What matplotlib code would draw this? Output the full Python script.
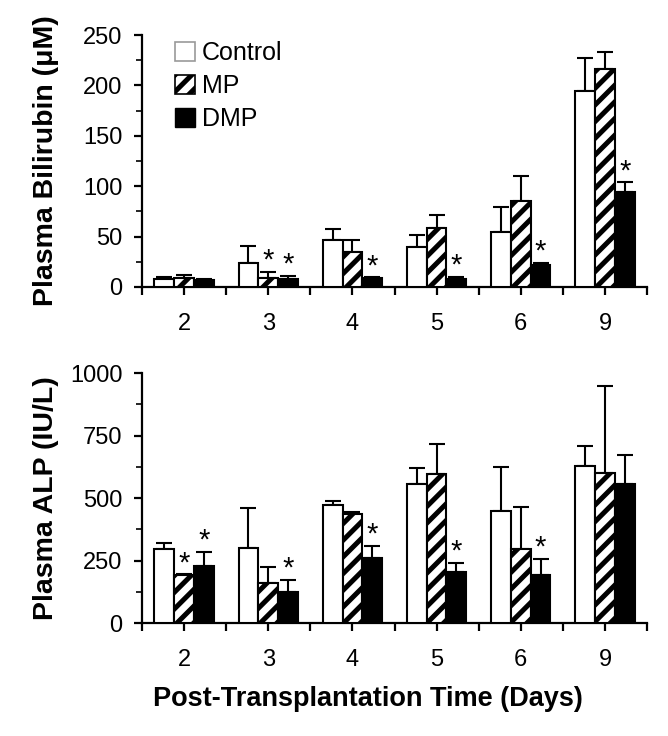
"""
Plasma bilirubin and ALP after transplantation: Control / MP / DMP bars with SEM.
"""
import numpy as np
import matplotlib
matplotlib.use("Agg")
import matplotlib.pyplot as plt
from matplotlib.patches import Patch
from matplotlib.ticker import MultipleLocator

plt.rcParams["font.family"] = ["Liberation Sans", "DejaVu Sans"]
plt.rcParams["hatch.linewidth"] = 3.6

# ── Data ──────────────────────────────────────────────────────────────────────
days = ["2", "3", "4", "5", "6", "9"]

ctrl_bil = [8, 23.5, 46.5, 40, 55, 194.5]
ctrl_bil_sem = [1.5, 17.5, 11, 12, 24, 32.5]
mp_bil = [9, 9, 34.5, 59, 85.5, 216]
mp_bil_sem = [3, 6, 12.5, 12, 24.5, 17.5]
dmp_bil = [7, 8, 9, 8, 22, 94]
dmp_bil_sem = [0.5, 3, 0.5, 2, 2, 10]
# significance stars: (day index, group index)  group 1 = MP, 2 = DMP
stars_bil = [(1, 1), (1, 2), (2, 2), (3, 2), (4, 2), (5, 2)]

ctrl_alp = [296, 301, 472, 555, 448, 628]
ctrl_alp_sem = [23, 159, 17, 66, 177, 81]
mp_alp = [192, 159, 436, 596, 295, 599]
mp_alp_sem = [3, 65, 9, 120, 170, 349]
dmp_alp = [229, 124, 260, 204, 192, 556]
dmp_alp_sem = [56, 48, 48, 36, 65, 115]
stars_alp = [(0, 1), (0, 2), (1, 2), (2, 2), (3, 2), (4, 2)]


def draw_panel(ax, series, sems, stars, ymax, major, minor, ylabel, star_off):
    x = np.arange(len(days))
    w = 0.235
    styles = [dict(color="white", hatch=None),
              dict(color="white", hatch="//"),
              dict(color="black", hatch=None)]
    tops = []
    for i, (vals, sem, st) in enumerate(zip(series, sems, styles)):
        xs = x + (i - 1) * w
        ax.bar(xs, vals, w, color=st["color"], edgecolor="black",
               linewidth=1.5, hatch=st["hatch"], zorder=3)
        ax.errorbar(xs, vals, yerr=[np.zeros(len(vals)), sem], fmt="none",
                    ecolor="black", elinewidth=1.5, capsize=5.5,
                    capthick=1.5, zorder=2)
        tops.append((xs, np.array(vals) + np.array(sem)))
    for d, g in stars:
        xs, tp = tops[g]
        ax.text(xs[d], tp[d] + star_off, "*", ha="center", va="bottom",
                fontsize=21, zorder=4)

    ax.set_xlim(-0.5, len(days) - 0.5)
    ax.set_ylim(0, ymax)
    ax.yaxis.set_major_locator(MultipleLocator(major))
    ax.yaxis.set_minor_locator(MultipleLocator(minor))
    ax.set_xticks(x)
    ax.set_xticklabels(days)
    ax.set_xticks(np.arange(-0.5, len(days)), minor=True)
    for s in ["top", "right"]:
        ax.spines[s].set_visible(False)
    for s in ["left", "bottom"]:
        ax.spines[s].set_linewidth(1.6)
    ax.tick_params(axis="both", which="major", direction="out", length=6,
                   width=1.6, labelsize=17)
    ax.tick_params(axis="y", which="minor", direction="out", length=4, width=1.2)
    ax.tick_params(axis="x", which="minor", direction="out", length=6, width=1.6)
    ax.tick_params(axis="x", which="major", pad=13)
    ax.tick_params(axis="y", which="major", pad=8)
    ax.set_ylabel(ylabel, fontsize=20.5, fontweight="bold")
    ax.yaxis.set_label_coords(-0.164, 0.5)


fig = plt.figure(figsize=(6.68, 7.36), dpi=100)
ax1 = fig.add_axes([0.2126, 0.6101, 0.756, 0.3423])
ax2 = fig.add_axes([0.2126, 0.1535, 0.756, 0.3397])

draw_panel(ax1, [ctrl_bil, mp_bil, dmp_bil],
           [ctrl_bil_sem, mp_bil_sem, dmp_bil_sem], stars_bil,
           250, 50, 25, "Plasma Bilirubin (\u03bcM)", -3)
draw_panel(ax2, [ctrl_alp, mp_alp, dmp_alp],
           [ctrl_alp_sem, mp_alp_sem, dmp_alp_sem], stars_alp,
           1000, 250, 125, "Plasma ALP (IU/L)", -12)
fig.text(0.551, 0.05, "Post-Transplantation Time (Days)", fontsize=19.5,
         fontweight="bold", ha="center", va="center")

handles = [Patch(facecolor="white", edgecolor="#999999", linewidth=1.2),
           Patch(facecolor="white", edgecolor="black", hatch="//", linewidth=1.2),
           Patch(facecolor="black", edgecolor="black")]
ax1.legend(handles, ["Control", "MP", "DMP"], loc="upper left",
           bbox_to_anchor=(0.045, 1.015), frameon=False, fontsize=18,
           handlelength=0.8, handleheight=0.8, handletextpad=0.3,
           labelspacing=0.36, borderaxespad=0)

fig.savefig("out.png", dpi=100)
